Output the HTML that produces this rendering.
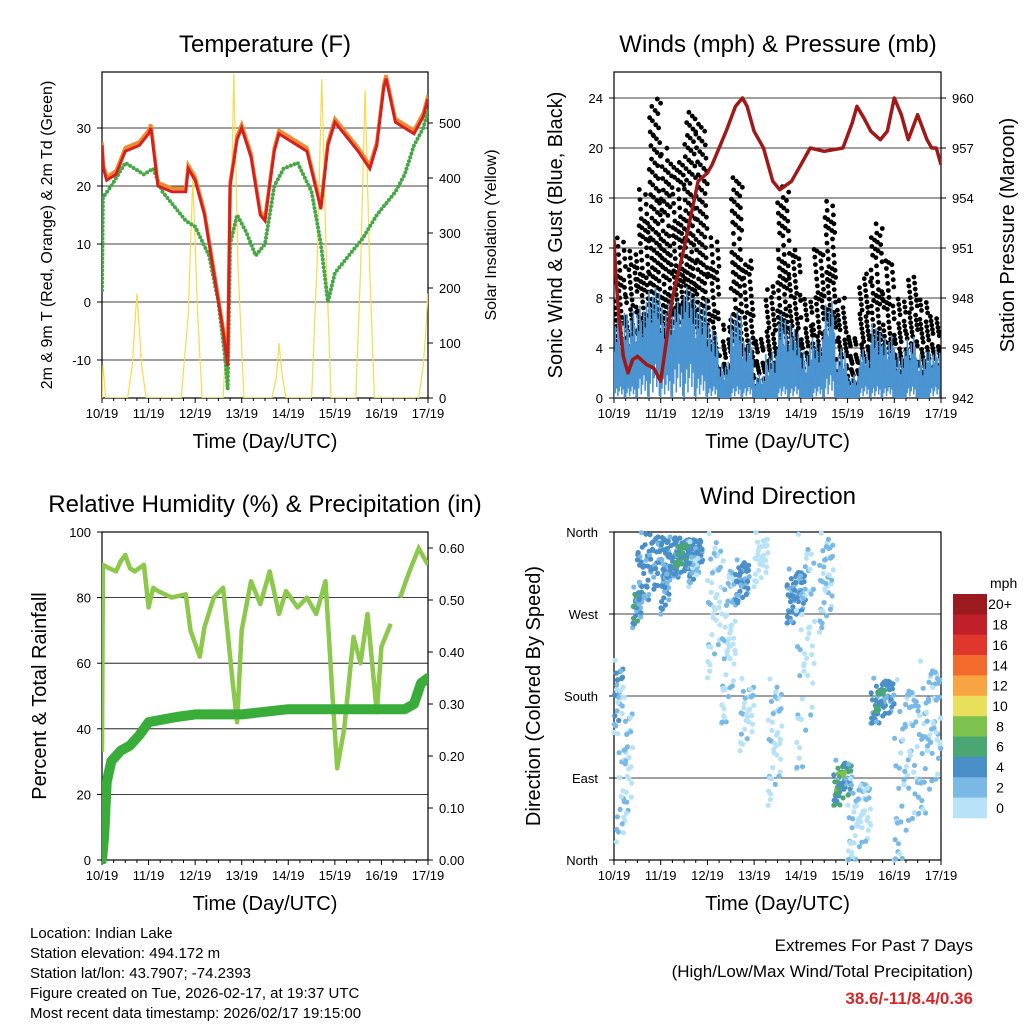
<!DOCTYPE html>
<html><head><meta charset="utf-8">
<style>
html,body{margin:0;padding:0;background:#fff;}
svg{display:block;font-family:"Liberation Sans",sans-serif;}
</style></head>
<body>
<svg id="c" width="1024" height="1024" viewBox="0 0 1024 1024" xmlns="http://www.w3.org/2000/svg"></svg>
<script>
// ---------- DATA ----------
const dayLabels = ["10/19","11/19","12/19","13/19","14/19","15/19","16/19","17/19"];
// Temperature (F)
const tempTimes = [0,0.03,0.1,0.3,0.5,0.8,1.0,1.05,1.2,1.5,1.8,1.85,2.0,2.2,2.4,2.6,2.7,2.75,2.9,3.0,3.2,3.4,3.5,3.7,3.8,4.0,4.4,4.7,4.85,5.0,5.1,5.3,5.5,5.75,5.9,6.05,6.1,6.3,6.5,6.7,6.9,7.0];
const tempVals = [27,23,21,22,26,27,29,30,20,19,19,23,21,15,5,-5,-11,20,28,30,25,15,14,26,29,28,26,16,27,31,30,28,26,23,27,37,38.5,31,30,29,32,35];
const tdTimes = [0,0.02,0.2,0.5,0.9,1.1,1.3,1.6,1.8,2.0,2.3,2.5,2.65,2.7,2.75,2.9,3.1,3.3,3.5,3.7,3.9,4.2,4.5,4.7,4.85,5.0,5.3,5.6,5.9,6.3,6.5,6.7,6.9,7.0];
const tdVals = [2,18,20,24,22,23,19,16,14,13,8,0,-10,-15,10,15,12,8,10,20,23,24,19,10,0,5,8,11,15,19,22,27,30,33];
const solarTimes = [0,0.02,0.08,0.55,0.65,0.75,0.85,0.95,1.7,1.85,1.95,2.05,2.15,2.6,2.75,2.83,2.92,3.05,3.65,3.75,3.8,3.87,3.95,4.5,4.62,4.72,4.82,4.92,5.45,5.55,5.65,5.75,5.85,6.8,6.9,6.95,7.0];
const solarVals = [0,60,0,0,60,190,60,0,0,150,400,160,0,0,250,590,240,0,0,40,100,40,0,0,250,580,240,0,0,230,560,230,0,0,60,120,190];
// Winds (mph) per quarter day
const gustLo = [2,3,4,5,4,6,6,4,2,0,2,1,0,1,3,3,1,2,4,1,1,2,2,1,1,2,1,1];
const gustHi = [13,12,17,24,20,19,23,22,13,6,18,11,5,9,17,12,8,12,16,8,5,10,14,11,8,10,8,7];
const windLo = [1,1,2,3,2,3,3,2,1,0,1,1,0,0,1,1,0,1,2,0,0,1,1,1,0,1,0,1];
const windHi = [7,7,8,9,8,8,9,8,6,3,7,5,2,4,7,6,4,5,8,4,2,4,6,5,4,5,4,4];
// Pressure (mb)
const presTimes = [0,0.05,0.1,0.2,0.3,0.4,0.5,0.7,0.85,1.0,1.1,1.25,1.5,1.8,2.0,2.1,2.25,2.4,2.6,2.75,2.85,3.0,3.2,3.4,3.55,3.7,3.8,4.0,4.2,4.5,4.9,5.1,5.2,5.35,5.5,5.7,5.85,6.0,6.15,6.3,6.5,6.7,6.8,6.9,7.0];
const presVals = [951.5,949,947,944.5,943.5,944.3,944.5,944,943.8,943,945,948,951,955,955.5,956,957,958,959.5,960,959.5,958,957,955,954.5,954.8,955,956,957,956.8,957,958.5,959.5,958.8,958,957.5,958,960,959,957.5,959,957.5,957,957,956];
// RH (%) and precip (in)
const rhTimes = [0,0.02,0.15,0.3,0.4,0.5,0.6,0.7,0.9,1.0,1.1,1.2,1.5,1.8,1.9,2.1,2.2,2.4,2.6,2.8,2.9,3.0,3.2,3.4,3.6,3.8,3.95,4.2,4.4,4.6,4.8,4.95,5.05,5.2,5.4,5.55,5.7,5.9,6.0,6.2];
const rhVals = [33,90,89,88,91,93,89,88,90,77,83,82,80,81,70,62,71,80,83,55,42,70,85,78,88,75,82,77,80,75,85,50,28,40,68,60,75,45,65,72];
const rh2Times = [6.4,6.6,6.8,7.0];
const rh2Vals = [80,88,95,90];
const precipTimes = [0,0.05,0.1,0.2,0.4,0.6,0.8,1.0,1.3,1.6,2.0,3.0,4.0,6.5,6.7,6.85,7.0];
const precipVals = [0,0.05,0.15,0.19,0.21,0.22,0.24,0.265,0.27,0.275,0.28,0.28,0.29,0.29,0.30,0.34,0.35];
// Wind direction clusters: start day, end day, dir low, dir high, speed (mph), count
const wdStart = [0.0,0.2,0.4,0.5,1.0,1.1,1.3,2.0,2.3,2.6,2.7,3.0,3.3,3.7,3.9,4.4,4.7,4.75,5.0,5.5,5.6,6.0,6.5,0.05,1.6];
const wdEnd   = [0.2,0.4,0.6,1.2,1.2,1.9,1.6,2.3,2.6,2.9,3.0,3.3,3.6,4.1,4.3,4.7,5.1,4.95,5.5,6.0,5.8,6.5,7.0,0.3,1.8];
const wdLo    = [140,30,255,285,270,310,320,200,150,280,120,300,60,260,100,250,60,70,0,150,160,0,50,20,300];
const wdHi    = [220,180,300,360,330,355,350,360,330,330,200,360,200,320,360,360,110,100,90,200,190,200,220,140,350];
const wdSpeed = [3,1,5,4,4,4,6,1,1,4,1,0,1,4,1,2,5,7,1,4,6,2,2,2,3];
const wdCount = [30,25,30,90,30,120,25,40,60,40,30,30,40,70,50,40,50,15,60,60,15,60,70,20,30];
// Colorbar
const cbLabels = ["20+","18","16","14","12","10","8","6","4","2","0"];
const cbColors = ["#9a1a1e","#c0202a","#e0372d","#f26b2c","#f9a443","#e8e05a","#7dc24f","#4aa774","#4a8fc8","#7ab9e6","#b8e2f8"];

// ---------- HELPERS ----------
const svg = document.getElementById('c');
const NS = "http://www.w3.org/2000/svg";
function el(tag, attrs, parent){
  const e = document.createElementNS(NS, tag);
  for (const k in attrs) e.setAttribute(k, attrs[k]);
  (parent||svg).appendChild(e);
  return e;
}
function txt(x,y,s,size,anchor,parent,extra){
  const t = el('text',Object.assign({x:x,y:y,'font-size':size,'text-anchor':anchor||'middle',fill:'#000'},extra||{}),parent);
  t.textContent = s;
  return t;
}
function linY(v0,y0,v1,y1){ return v => y0 + (v-v0)*(y1-y0)/(v1-v0); }
function path(xs,ys,fx,fy){ return xs.map((t,i)=>(i?'L':'M')+fx(t).toFixed(1)+','+fy(ys[i]).toFixed(1)).join(''); }
function speedColor(s){ let i = Math.min(10, Math.floor(s/2)); return cbColors[10-i]; }
function frac(v){ return v-Math.floor(v); }

function frame(x0,y0,x1,y1,name){
  const g = el('g',{});
  
  
  const r = el('rect',{x:x0,y:y0,width:x1-x0,height:y1-y0,fill:'none',stroke:'#000','stroke-width':1.2},g);
  
  
  return g;
}
function xAxis(g,x0,x1,yb){
  const fx = linY(0,x0,7,x1);
  dayLabels.forEach((d,i)=>{
    const l = el('line',{x1:fx(i),x2:fx(i),y1:yb,y2:yb+5,stroke:'#000'},g);
    
    
    const t = txt(fx(i),yb+20,d,13,'middle',g);
    
    
    if(i<7){ for(let k=1;k<4;k++){ el('line',{x1:fx(i+k/4),x2:fx(i+k/4),y1:yb,y2:yb+3,stroke:'#000'},g);} }
  });
  const xt = txt((x0+x1)/2,yb+50,"Time (Day/UTC)",20,'middle',g);
  
  
  return fx;
}
function hgrid(g,x0,x1,ys){
  ys.forEach(y=>{
    const l = el('line',{x1:x0,x2:x1,y1:y,y2:y,stroke:'#000','stroke-width':0.8},g);
    
    
  });
}
function leftTicks(g,x0,vals,fy,fmt,side){
  vals.forEach(v=>{
    const y=fy(v);
    if(side==='right'){
      el('line',{x1:x0,x2:x0+5,y1:y,y2:y,stroke:'#000'},g);
      const t=txt(x0+11,y+5,fmt(v),13,'start',g);
      
      
    } else {
      el('line',{x1:x0-5,x2:x0,y1:y,y2:y,stroke:'#000'},g);
      const t=txt(x0-11,y+5,fmt(v),13,'end',g);
      
      
    }
  });
}
function vtitle(x,y,s,size,g,name){
  const t = txt(x,y,s,size,'middle',g,{transform:'rotate(-90 '+x+' '+y+')'});
  
  
}
function title(x,y,s,g){
  const t=txt(x,y,s,24,'middle',g);
  
  
}

// ---------- PANEL 1: TEMPERATURE ----------
(function(){
  const x0=102,x1=428,y0=72,y1=398;
  const g = frame(x0,y0,x1,y1,'temperature-panel');
  const fx = xAxis(g,x0,x1,y1);
  const fy = linY(0,302,30,128);
  const fs = linY(0,398,500,123);
  hgrid(g,x0,x1,[30,20,10,0,-10].map(fy));
  leftTicks(g,x0,[30,20,10,0,-10],fy,v=>String(v));
  leftTicks(g,x1,[0,100,200,300,400,500],fs,v=>String(v),'right');
  title(265,52,"Temperature (F)",g);
  vtitle(52,235,"2m & 9m T (Red, Orange) & 2m Td (Green)",16,g,'y-axis-title');
  vtitle(496,235,"Solar Insolation (Yellow)",16,g,'y-right-axis-title');
  const cp = el('clipPath',{id:'cp1'},g); el('rect',{x:x0,y:y0,width:x1-x0,height:y1-y0},cp);
  const pg = el('g',{'clip-path':'url(#cp1)'},g);
  const so = el('path',{d:path(solarTimes,solarVals,fx,fs),fill:'none',stroke:'#f4dc4a','stroke-width':1.2},pg);
  
  
  const td = el('path',{d:path(tdTimes,tdVals,fx,fy),fill:'none',stroke:'#45a845','stroke-width':4,'stroke-dasharray':'0 4','stroke-linecap':'round'},pg);
  
  
  const t9 = el('path',{d:path(tempTimes,tempVals.map(v=>v+0.6),fx,fy),fill:'none',stroke:'#f08a30','stroke-width':3.5},pg);
  
  
  const t2 = el('path',{d:path(tempTimes,tempVals,fx,fy),fill:'none',stroke:'#d62020','stroke-width':3},pg);
  
  
})();

// ---------- PANEL 2: WINDS & PRESSURE ----------
(function(){
  const x0=614,x1=941,y0=72,y1=398;
  const g = frame(x0,y0,x1,y1,'winds-panel');
  const fx = xAxis(g,x0,x1,y1);
  const fy = linY(0,398,24,98);
  const fp = linY(942,398,960,98);
  hgrid(g,x0,x1,[4,8,12,16,20,24].map(fy));
  leftTicks(g,x0,[0,4,8,12,16,20,24],fy,v=>String(v));
  leftTicks(g,x1,[942,945,948,951,954,957,960],fp,v=>String(v),'right');
  title(778,52,"Winds (mph) & Pressure (mb)",g);
  vtitle(562,235,"Sonic Wind & Gust (Blue, Black)",20,g,'y-axis-title');
  vtitle(1014,235,"Station Pressure (Maroon)",20,g,'y-right-axis-title');
  const cp = el('clipPath',{id:'cp2'},g); el('rect',{x:x0,y:y0,width:x1-x0,height:y1-y0},cp);
  const pg = el('g',{'clip-path':'url(#cp2)'},g);
  const gg = el('g',{fill:'#000'},pg);
  
  
  gustHi.forEach((hi,i)=>{
    const lo=gustLo[i];
    const n=Math.round((hi-lo)*5+10);
    for(let k=0;k<n;k++){
      const t=i*0.25+0.25*frac(k*0.618034+i*0.37);
      const f=Math.pow(frac(k*0.7548777+i*0.13),1.6);
      const v=lo+(hi-lo)*f;
      el('circle',{cx:fx(t).toFixed(1),cy:fy(v).toFixed(1),r:2.4},gg);
    }
  });
  // wind band: ragged vertical strokes
  const wg = el('g',{stroke:'#4b94d2','stroke-width':1.6},pg);
  
  
  windHi.forEach((hi,i)=>{
    const lo=windLo[i];
    const xa=fx(i*0.25), xb=fx((i+1)*0.25);
    let k=0;
    for(let x=xa;x<xb;x+=1.3,k++){
      const top=lo+(hi-lo)*(0.45+0.55*frac(k*0.618034+i*0.29));
      const bot=lo*frac(k*0.381966);
      el('line',{x1:x.toFixed(1),x2:x.toFixed(1),y1:fy(bot).toFixed(1),y2:fy(top).toFixed(1)},wg);
    }
  });
  const pr = el('path',{d:path(presTimes,presVals,fx,fp),fill:'none',stroke:'#a01818','stroke-width':3.5,'stroke-linejoin':'round'},pg);
  
  
})();

// ---------- PANEL 3: RH & PRECIP ----------
(function(){
  const x0=102,x1=428,y0=532,y1=860;
  const g = frame(x0,y0,x1,y1,'humidity-panel');
  const fx = xAxis(g,x0,x1,y1);
  const fy = linY(0,860,100,532);
  const fr = linY(0,860,0.6,548);
  hgrid(g,x0,x1,[20,40,60,80].map(fy));
  leftTicks(g,x0,[0,20,40,60,80,100],fy,v=>String(v));
  leftTicks(g,x1,[0,0.1,0.2,0.3,0.4,0.5,0.6],fr,v=>v.toFixed(2),'right');
  title(265,512,"Relative Humidity (%) & Precipitation (in)",g);
  vtitle(46,696,"Percent & Total Rainfall",20,g,'y-axis-title');
  const cp = el('clipPath',{id:'cp3'},g); el('rect',{x:x0,y:y0-4,width:x1-x0,height:y1-y0+8},cp);
  const pg = el('g',{'clip-path':'url(#cp3)'},g);
  const rh = el('path',{d:path(rhTimes,rhVals,fx,fy),fill:'none',stroke:'#8cc84b','stroke-width':4.5,'stroke-linejoin':'round'},pg);
  
  
  const rh2 = el('path',{d:path(rh2Times,rh2Vals,fx,fy),fill:'none',stroke:'#8cc84b','stroke-width':4.5},pg);
  
  
  const pc = el('path',{d:path(precipTimes,precipVals,fx,fr),fill:'none',stroke:'#3aac3a','stroke-width':10,'stroke-linecap':'round','stroke-linejoin':'round'},pg);
  
  
})();

// ---------- PANEL 4: WIND DIRECTION ----------
(function(){
  const x0=614,x1=941,y0=532,y1=860;
  const g = frame(x0,y0,x1,y1,'wind-direction-panel');
  const fx = xAxis(g,x0,x1,y1);
  const fd = linY(0,860,360,532);
  hgrid(g,x0,x1,[90,180,270].map(fd));
  const names=["North","East","South","West","North"];
  [0,90,180,270,360].forEach((v,i)=>{
    el('line',{x1:x0-5,x2:x0,y1:fd(v),y2:fd(v),stroke:'#000'},g);
    const t=txt(x0-16,fd(v)+5,names[i],13,'end',g);
    
    
  });
  title(778,504,"Wind Direction",g);
  vtitle(540,696,"Direction (Colored By Speed)",20,g,'y-axis-title');
  const pg = el('g',{},g);
  
  
  wdStart.forEach((s,i)=>{
    const n=wdCount[i];
    for(let k=0;k<n;k++){
      const ft=frac(k*0.618034), fdv=frac(k*0.381966+k*k*0.0127);
      const t=s+(wdEnd[i]-s)*ft;
      const d=wdLo[i]+(wdHi[i]-wdLo[i])*fdv;
      const sp=Math.max(0,wdSpeed[i]+((k%3)-1)*1.5);
      el('circle',{cx:fx(t).toFixed(1),cy:fd(d).toFixed(1),r:2.6,fill:speedColor(sp)},pg);
    }
  });
  // colorbar
  const cb = el('g',{});
  
  
  const ct=txt(990,588,"mph",14,'start',cb);
  
  
  const h=(818-594)/11;
  cbLabels.forEach((lab,i)=>{
    const r=el('rect',{x:953,y:594+i*h,width:34,height:h+0.3,fill:cbColors[i]},cb);
    
    
    const t=txt(1000,594+i*h+h/2+5,lab,14,'middle',cb);
    
    
  });
})();

// ---------- FOOTER TEXT ----------
(function(){
  const info=["Location: Indian Lake","Station elevation: 494.172 m","Station lat/lon: 43.7907; -74.2393","Figure created on Tue, 2026-02-17, at 19:37 UTC","Most recent data timestamp: 2026/02/17 19:15:00"];
  info.forEach((s,i)=>{
    const t=txt(30,938+i*20,s,15,'start');
    
    
  });
  const a=txt(973,951,"Extremes For Past 7 Days",17,'end');
  
  
  const b=txt(973,977,"(High/Low/Max Wind/Total Precipitation)",17,'end');
  
  
  const c=txt(973,1004,"38.6/-11/8.4/0.36",17,'end',null,{fill:'#d62728','font-weight':'bold'});
  
  
})();
</script>
</body></html>
